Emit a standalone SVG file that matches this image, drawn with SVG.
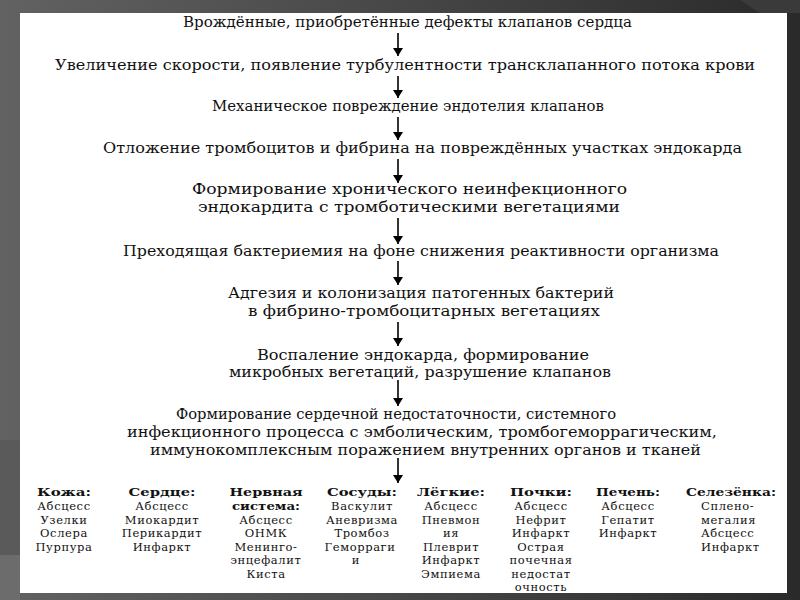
<svg xmlns="http://www.w3.org/2000/svg" width="800" height="600" viewBox="0 0 800 600">
<defs>
<linearGradient id="bg" x1="0" y1="0" x2="1" y2="0">
<stop offset="0" stop-color="#626262"/>
<stop offset="0.5" stop-color="#474747"/>
<stop offset="1" stop-color="#2a2a2a"/>
</linearGradient>
<marker id="ah" viewBox="0 0 8 10" refX="8" refY="5" markerWidth="8" markerHeight="10" markerUnits="userSpaceOnUse" orient="auto">
<path d="M0,0 L8,5 L0,10 Z" fill="#000"/>
</marker>
<style>
.m{font-family:"DejaVu Serif","Liberation Serif",serif;font-size:15px;fill:#111;text-anchor:middle}
.h{font-family:"DejaVu Serif","Liberation Serif",serif;font-size:11.5px;font-weight:bold;fill:#111;text-anchor:middle}
.i{font-family:"DejaVu Serif","Liberation Serif",serif;font-size:11.5px;letter-spacing:0.6px;fill:#111;text-anchor:middle}
.il{text-anchor:start}
.c{stroke:#000;stroke-width:1.6;fill:none;marker-end:url(#ah)}
</style>
</defs>
<rect width="800" height="600" fill="url(#bg)"/>
<polygon points="0,440 20,440 20,600 0,600" fill="#5a5a5a"/>
<polygon points="0,555 20,555 20,600 0,600" fill="#6c6c6c"/>
<polygon points="740,0 800,0 800,13 760,13" fill="#3a3a3a"/>
<rect x="20" y="13" width="767" height="580" fill="#fff"/>

<g id="connectors">
<line class="c" x1="398" y1="33" x2="398" y2="56"/>
<line class="c" x1="398" y1="76" x2="398" y2="98"/>
<line class="c" x1="398" y1="117" x2="398" y2="140"/>
<line class="c" x1="398" y1="159" x2="398" y2="183"/>
<line class="c" x1="398" y1="218" x2="398" y2="244"/>
<line class="c" x1="398" y1="261" x2="398" y2="285"/>
<line class="c" x1="398" y1="322" x2="398" y2="346"/>
<line class="c" x1="398" y1="380" x2="398" y2="406"/>
<line class="c" x1="398" y1="458" x2="398" y2="483"/>
</g>

<g id="n1"><text class="m" x="407.5" y="27" textLength="449" lengthAdjust="spacingAndGlyphs">Врождённые, приобретённые дефекты клапанов сердца</text></g>
<g id="n2"><text class="m" x="405" y="70" textLength="700" lengthAdjust="spacingAndGlyphs">Увеличение скорости, появление турбулентности трансклапанного потока крови</text></g>
<g id="n3"><text class="m" x="408" y="111" textLength="392" lengthAdjust="spacingAndGlyphs">Механическое повреждение эндотелия клапанов</text></g>
<g id="n4"><text class="m" x="422.5" y="153" textLength="639" lengthAdjust="spacingAndGlyphs">Отложение тромбоцитов и фибрина на повреждённых участках эндокарда</text></g>
<g id="n5">
<text class="m" x="409.5" y="194" textLength="435" lengthAdjust="spacingAndGlyphs">Формирование хронического неинфекционного</text>
<text class="m" x="409" y="212" textLength="422" lengthAdjust="spacingAndGlyphs">эндокардита с тромботическими вегетациями</text>
</g>
<g id="n6"><text class="m" x="421" y="256" textLength="596" lengthAdjust="spacingAndGlyphs">Преходящая бактериемия на фоне снижения реактивности организма</text></g>
<g id="n7">
<text class="m" x="421" y="298" textLength="386" lengthAdjust="spacingAndGlyphs">Адгезия и колонизация патогенных бактерий</text>
<text class="m" x="424" y="316" textLength="352" lengthAdjust="spacingAndGlyphs">в фибрино-тромбоцитарных вегетациях</text>
</g>
<g id="n8">
<text class="m" x="423" y="360" textLength="332" lengthAdjust="spacingAndGlyphs">Воспаление эндокарда, формирование</text>
<text class="m" x="420" y="377" textLength="382" lengthAdjust="spacingAndGlyphs">микробных вегетаций, разрушение клапанов</text>
</g>
<g id="n9">
<text class="m" x="396" y="419" textLength="440" lengthAdjust="spacingAndGlyphs">Формирование сердечной недостаточности, системного</text>
<text class="m" x="422" y="437" textLength="590" lengthAdjust="spacingAndGlyphs">инфекционного процесса с эмболическим, тромбогеморрагическим,</text>
<text class="m" x="425.5" y="455" textLength="551" lengthAdjust="spacingAndGlyphs">иммунокомплексным поражением внутренних органов и тканей</text>
</g>

<g id="skin">
<text class="h" x="64" y="496" textLength="54" lengthAdjust="spacingAndGlyphs">Кожа:</text>
<text class="i" x="64" y="510">Абсцесс</text>
<text class="i" x="64" y="523.5">Узелки</text>
<text class="i" x="64" y="537">Ослера</text>
<text class="i" x="64" y="550.5">Пурпура</text>
</g>
<g id="heart">
<text class="h" x="162" y="496" textLength="67" lengthAdjust="spacingAndGlyphs">Сердце:</text>
<text class="i" x="162" y="510">Абсцесс</text>
<text class="i" x="162" y="523.5">Миокардит</text>
<text class="i" x="162" y="537">Перикардит</text>
<text class="i" x="162" y="550.5">Инфаркт</text>
</g>
<g id="nerve">
<text class="h" x="266" y="496" textLength="73" lengthAdjust="spacingAndGlyphs">Нервная</text>
<text class="h" x="266" y="509.5" textLength="68" lengthAdjust="spacingAndGlyphs">система:</text>
<text class="i" x="266" y="523.5">Абсцесс</text>
<text class="i" x="266" y="537">ОНМК</text>
<text class="i" x="266" y="550.5">Менинго-</text>
<text class="i" x="266" y="564">энцефалит</text>
<text class="i" x="266" y="577.5">Киста</text>
</g>
<g id="vessels">
<text class="h" x="362" y="496" textLength="70" lengthAdjust="spacingAndGlyphs">Сосуды:</text>
<text class="i" x="362" y="510">Васкулит</text>
<text class="i" x="362" y="523.5">Аневризма</text>
<text class="i" x="362" y="537">Тромбоз</text>
<text class="i" x="360" y="550.5">Геморраги</text>
<text class="i" x="356" y="564">и</text>
</g>
<g id="lungs">
<text class="h" x="451" y="496" textLength="68" lengthAdjust="spacingAndGlyphs">Лёгкие:</text>
<text class="i" x="451" y="510">Абсцесс</text>
<text class="i" x="451" y="523.5">Пневмон</text>
<text class="i" x="451" y="537">ия</text>
<text class="i" x="451" y="550.5">Плеврит</text>
<text class="i" x="451" y="564">Инфаркт</text>
<text class="i" x="451" y="577.5">Эмпиема</text>
</g>
<g id="kidneys">
<text class="h" x="541" y="496" textLength="62" lengthAdjust="spacingAndGlyphs">Почки:</text>
<text class="i" x="541" y="510">Абсцесс</text>
<text class="i" x="541" y="523.5">Нефрит</text>
<text class="i" x="541" y="537">Инфаркт</text>
<text class="i" x="541" y="550.5">Острая</text>
<text class="i" x="541" y="564">почечная</text>
<text class="i" x="541" y="577.5">недостат</text>
<text class="i" x="541" y="591">очность</text>
</g>
<g id="liver">
<text class="h" x="628" y="496" textLength="64" lengthAdjust="spacingAndGlyphs">Печень:</text>
<text class="i" x="628" y="510">Абсцесс</text>
<text class="i" x="628" y="523.5">Гепатит</text>
<text class="i" x="628" y="537">Инфаркт</text>
</g>
<g id="spleen">
<text class="h" x="731" y="496" textLength="90" lengthAdjust="spacingAndGlyphs">Селезёнка:</text>
<text class="i il" x="701" y="510">Сплено-</text>
<text class="i il" x="701" y="523.5">мегалия</text>
<text class="i il" x="701" y="537">Абсцесс</text>
<text class="i il" x="701" y="550.5">Инфаркт</text>
</g>
</svg>
